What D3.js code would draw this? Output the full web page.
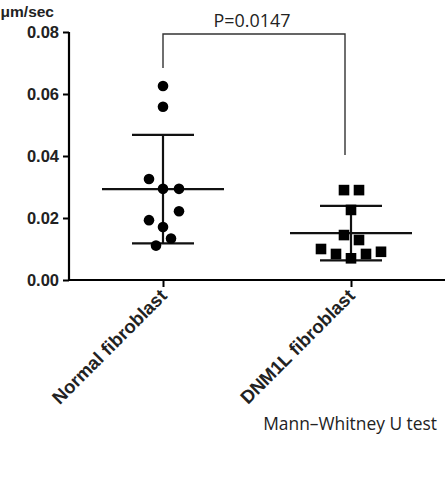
<!DOCTYPE html>
<html>
<head>
<meta charset="utf-8">
<script src="https://cdn.jsdelivr.net/npm/d3@7"></script>
<style>
  body { margin: 0; background: #fff; }
  svg { display: block; }
</style>
</head>
<body>
<div id="chart"></div>
<script>
const width = 448;
const height = 478;

// data
const groups = ["Normal fibroblast", "DNM1L fibroblast"];
const normalVals = [0.0626, 0.0559, 0.0326, 0.0294, 0.0294, 0.0222, 0.0193, 0.0171, 0.0134, 0.0111];
const normalOffsets = [0, 0, -14, 0, 16, 16, -14, 0, 8, -7];
const dnmVals = [0.0290, 0.0290, 0.0226, 0.0145, 0.0129, 0.0100, 0.0084, 0.0070, 0.0084, 0.0091];
const dnmOffsets = [-7, 8, 0, -7, 8, -30, -15, 0, 15, 30];
const means = [0.0293, 0.0151];
const sds = [0.0175, 0.0088];
const yTicks = [0, 0.02, 0.04, 0.06, 0.08];
const pLabel = "P=0.0147";
const testLabel = "Mann\u2013Whitney U test";
const yUnit = "\u03bcm/sec";

var svg = d3.select("#chart").append("svg").attr("width", width).attr("height", height);

var x = d3.scalePoint().domain(groups).range([69, 445]).padding(0.5);
var y = d3.scaleLinear().domain([0, 0.08]).range([280, 32]);

// scale a text's font so it spans the wanted width
function fitWidth(sel, target) {
  var fs = +sel.attr("font-size");
  var w = sel.node().getComputedTextLength();
  if (w > 0) sel.attr("font-size", fs * target / w);
}

// y axis
var yAxis = svg.append("g").attr("transform", "translate(69,0)")
  .call(d3.axisLeft(y).tickValues(yTicks).tickFormat(d3.format(".2f")).tickSize(6).tickPadding(4));
yAxis.select(".domain").attr("stroke-width", 2.2).attr("d", "M0," + y(0.08) + "V" + y(0));
yAxis.selectAll(".tick line").attr("stroke-width", 2);
yAxis.selectAll(".tick text")
  .attr("font-family", "Liberation Sans, Arial, sans-serif")
  .attr("font-weight", "bold").attr("font-size", 16.5).attr("fill", "#222");

// x axis
var xAxis = svg.append("g").attr("transform", "translate(0," + y(0) + ")")
  .call(d3.axisBottom(x).tickSize(7).tickFormat(""));
xAxis.select(".domain").attr("stroke-width", 2.2).attr("d", "M68,0H445");
xAxis.selectAll(".tick line").attr("stroke-width", 2);

groups.forEach(function(g) {
  svg.append("text")
    .attr("transform", "translate(" + (x(g) + 5) + "," + (y(0) + 17) + ") rotate(-45)")
    .attr("text-anchor", "end")
    .attr("font-family", "Liberation Sans, Arial, sans-serif")
    .attr("font-weight", "bold").attr("font-size", 18.5).attr("fill", "#222")
    .text(g);
});

// unit label
svg.append("text").attr("x", 54).attr("y", 17).attr("text-anchor", "end")
  .attr("font-family", "Liberation Sans, Arial, sans-serif")
  .attr("font-weight", "bold").attr("font-size", 15.5).attr("fill", "#222")
  .text(yUnit);

// mean and SD bars
var meanHalf = 61, capHalf = 31;
groups.forEach(function(g, i) {
  var cx = x(g);
  var gg = svg.append("g").attr("stroke", "#111").attr("stroke-width", 2.2);
  gg.append("line").attr("x1", cx - meanHalf).attr("x2", cx + meanHalf)
    .attr("y1", y(means[i])).attr("y2", y(means[i]));
  gg.append("line").attr("x1", cx).attr("x2", cx)
    .attr("y1", y(means[i] + sds[i])).attr("y2", y(means[i] - sds[i]));
  [means[i] + sds[i], means[i] - sds[i]].forEach(function(v) {
    gg.append("line").attr("x1", cx - capHalf).attr("x2", cx + capHalf)
      .attr("y1", y(v)).attr("y2", y(v));
  });
});

// points
svg.selectAll("circle.pt").data(normalVals).enter().append("circle")
  .attr("class", "pt")
  .attr("cx", function(d, i) { return x(groups[0]) + normalOffsets[i]; })
  .attr("cy", function(d) { return y(d); })
  .attr("r", 5.3).attr("fill", "#000");

svg.selectAll("rect.pt").data(dnmVals).enter().append("rect")
  .attr("class", "pt")
  .attr("x", function(d, i) { return x(groups[1]) + dnmOffsets[i] - 5.3; })
  .attr("y", function(d) { return y(d) - 5.3; })
  .attr("width", 10.6).attr("height", 10.6).attr("fill", "#000");

// significance bracket
var bx1 = x(groups[0]), bx2 = x(groups[1]) - 6;
var by = 34;
svg.append("path")
  .attr("d", "M" + bx1 + ",68V" + by + "H" + bx2 + "V155")
  .attr("fill", "none").attr("stroke", "#333").attr("stroke-width", 1.4);
var pText = svg.append("text").attr("x", 252).attr("y", 27).attr("text-anchor", "middle")
  .attr("font-family", "'Open Sans', 'Liberation Sans', sans-serif").attr("font-size", 15.5).attr("fill", "#222")
  .text(pLabel);
fitWidth(pText, 77);

var tText = svg.append("text").attr("x", 437).attr("y", 430).attr("text-anchor", "end")
  .attr("font-family", "'Open Sans', 'Liberation Sans', sans-serif").attr("font-size", 16.5).attr("fill", "#222")
  .text(testLabel);
fitWidth(tText, 174);
</script>
</body>
</html>
